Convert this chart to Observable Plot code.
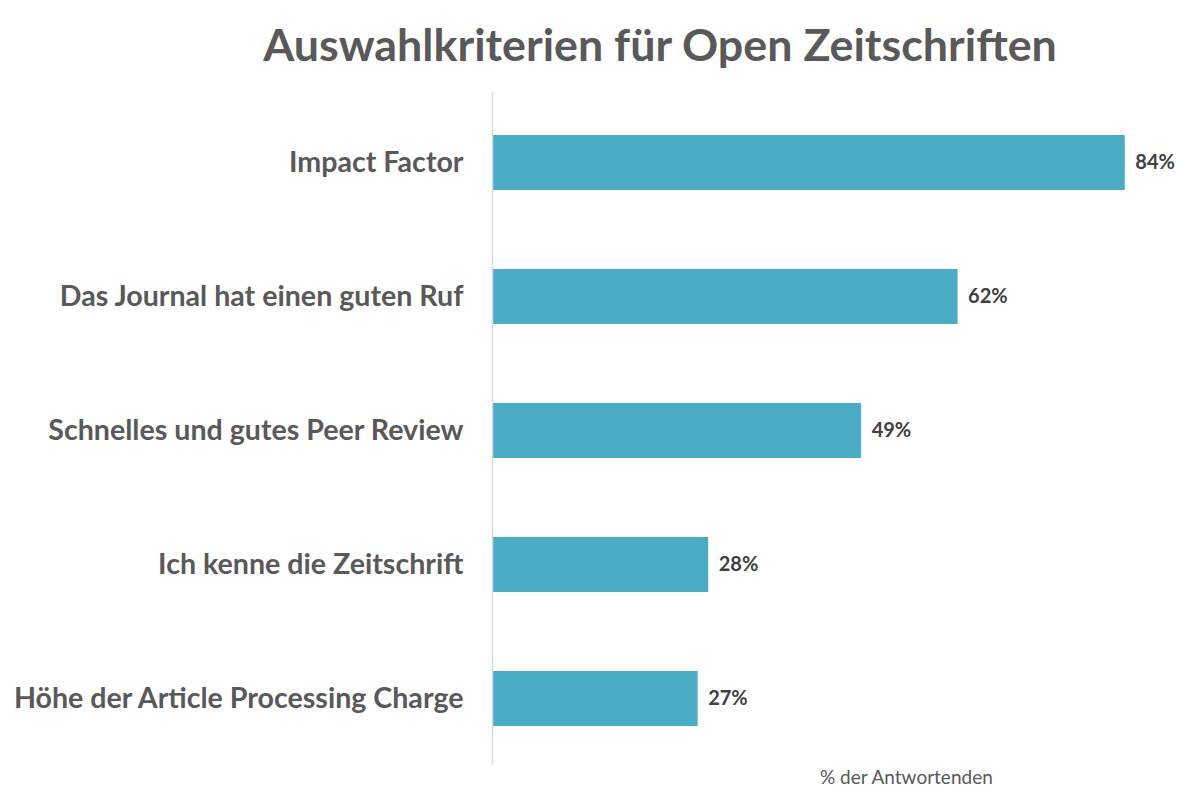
<!DOCTYPE html>
<html><head><meta charset="utf-8">
<script src="https://cdn.jsdelivr.net/npm/d3@7"></script>
<script src="https://cdn.jsdelivr.net/npm/@observablehq/plot@0.6"></script>
<style>
body{margin:0;background:#fff;font-family:Lato,"Open Sans",sans-serif;}
#wrap{position:relative;width:1204px;height:798px;}
#title{position:absolute;left:0;top:0;width:1204px;height:92px;box-sizing:border-box;padding-left:116px;text-align:center;font-weight:bold;font-size:44.8px;color:#595959;line-height:88px;}
#chart{position:absolute;left:0;top:92px;}
#caption{position:absolute;left:820px;top:765px;font-size:19px;color:#595959;}
</style></head>
<body><div id="wrap">
<div id="title">Auswahlkriterien für Open Zeitschriften</div>
<div id="chart"></div>
<div id="caption">% der Antwortenden</div>
</div>
<script>
const categories = ["Impact Factor","Das Journal hat einen guten Ruf","Schnelles und gutes Peer Review","Ich kenne die Zeitschrift","Höhe der Article Processing Charge"];
const values = [84, 61.8, 49, 28.7, 27.3];
const valueLabels = ["84%","62%","49%","28%","27%"];
const data = categories.map((c,i)=>({cat:c, v:values[i], label:valueLabels[i]}));
const plot = Plot.plot({
  width:1204, height:676,
  marginLeft:492, marginRight:34, marginTop:3, marginBottom:3,
  style:{fontFamily:"Lato, 'Open Sans', sans-serif", background:"#fff"},
  x:{domain:[0,90], axis:null},
  y:{domain:categories, paddingInner:0.59, paddingOuter:0.295, label:null},
  marks:[
    Plot.axisY({tickSize:0, tickPadding:29, fontSize:28.6, fontWeight:"bold", fill:"#595959", label:null}),
    Plot.barX(data,{y:"cat", x:"v", fill:"#4BACC6"}),
    Plot.ruleX([0],{stroke:"#d9d9d9", strokeWidth:1.5, insetTop:-3}),
    Plot.text(data,{y:"cat", x:"v", text:"label", textAnchor:"start", dx:10, fontSize:20, fontWeight:"bold", fill:"#404040"})
  ]
});
document.getElementById("chart").appendChild(plot);
</script>
</body></html>
